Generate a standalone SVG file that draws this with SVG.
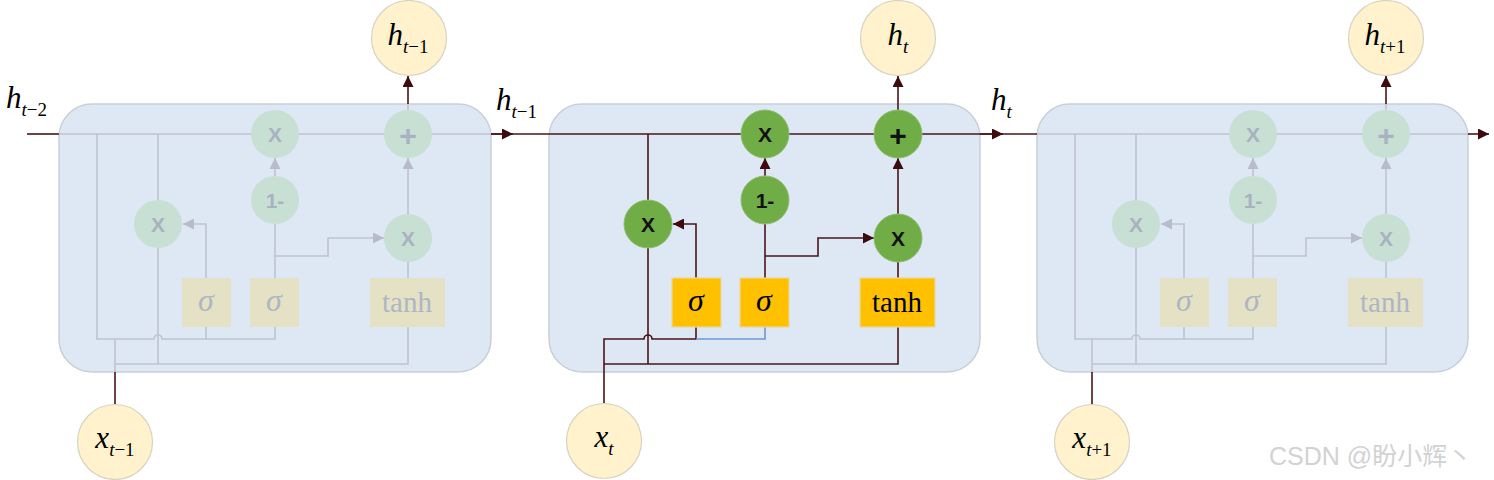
<svg xmlns="http://www.w3.org/2000/svg" width="1494" height="480" viewBox="0 0 1494 480">
<defs>
<style>
.cell{fill:#dee8f4;stroke:#c9ced8;stroke-width:1.5}
.ln{fill:none;stroke:#4a1418;stroke-width:1.6}
.lnf{fill:none;stroke:#bfc3cd;stroke-width:1.6}
.blue{fill:none;stroke:#6f96d6;stroke-width:1.6}
.op{fill:#70ad47;stroke:#8ebd6f;stroke-width:1}
.opf{fill:#c8dfd3;stroke:none}
.gate{fill:#ffc000;stroke:#e8d7a0;stroke-width:1.2}
.gatef{fill:#e5e1c4;stroke:none}
.io{fill:#fff2cc;stroke:#d7d2c2;stroke-width:1.2}
.opt{font-family:"Liberation Sans",Arial,sans-serif;font-size:21px;font-weight:bold;fill:#111;text-anchor:middle;dominant-baseline:central}
.optf{font-family:"Liberation Sans",Arial,sans-serif;font-size:21px;font-weight:bold;fill:#a9b2c0;text-anchor:middle;dominant-baseline:central}
.plus{font-size:30px}
.ser{font-family:"Liberation Serif","Times New Roman",serif;fill:#000;text-anchor:middle}
.serf{font-family:"Liberation Serif","Times New Roman",serif;fill:#aeb6c4;text-anchor:middle}
.lab{font-family:"Liberation Serif","Times New Roman",serif;fill:#000}
</style>
<marker id="ahb" viewBox="0 0 10 10" refX="10" refY="5" markerWidth="11" markerHeight="11" markerUnits="userSpaceOnUse" orient="auto"><path d="M0,0 L10,5 L0,10 z" fill="#3d0a0e"/></marker>
<marker id="ahf" viewBox="0 0 10 10" refX="10" refY="5" markerWidth="11" markerHeight="11" markerUnits="userSpaceOnUse" orient="auto"><path d="M0,0 L10,5 L0,10 z" fill="#b8bcc8"/></marker>
</defs>
<rect width="1494" height="480" fill="#fff"/>

<!-- cell boxes -->
<g id="cell-left"><rect class="cell" x="59" y="104" width="432" height="268" rx="33"/></g>
<g id="cell-mid"><rect class="cell" x="549" y="104" width="431" height="268" rx="33"/></g>
<g id="cell-right"><rect class="cell" x="1037" y="104" width="431" height="268" rx="33"/></g>

<g id="connectors">
<!-- main state line -->
<path class="ln" d="M27,134 H59"/>
<path class="ln" d="M491,134 H549"/>
<path class="ln" d="M491,134 H513" marker-end="url(#ahb)"/>
<path class="ln" d="M549,134 H980"/>
<path class="ln" d="M980,134 H1037"/>
<path class="ln" d="M980,134 H1003" marker-end="url(#ahb)"/>
<path class="ln" d="M1468,134 H1489" marker-end="url(#ahb)"/>

<!-- faded cells (left and right) -->
<g transform="translate(-490,0)">
<path class="lnf" d="M549,134 H980"/>
<path class="lnf" d="M587,134 V339 H644 a4,4 0 0 1 8,0 H696 V327"/>
<path class="lnf" d="M696,339 H765 V327"/>
<path class="lnf" d="M648,134 V200 M648,248 V364"/>
<path class="lnf" d="M605,339 V372"/>
<path class="lnf" d="M605,364 H898 V327"/>
<path class="lnf" d="M696,278 V224 H673" marker-end="url(#ahf)"/>
<path class="lnf" d="M765,278 V224"/>
<path class="lnf" d="M765,256 H818 V238 H874" marker-end="url(#ahf)"/>
<path class="lnf" d="M765,176 V158" marker-end="url(#ahf)"/>
<path class="lnf" d="M898,278 V262"/>
<path class="lnf" d="M898,214 V158" marker-end="url(#ahf)"/>
<path class="lnf" d="M898,110 V104"/>
<path class="ln" d="M605,372 V404"/>
<path class="ln" d="M898,104 V76" marker-end="url(#ahb)"/>
</g>
<g transform="translate(488,0)">
<path class="lnf" d="M549,134 H980"/>
<path class="lnf" d="M587,134 V339 H644 a4,4 0 0 1 8,0 H696 V327"/>
<path class="lnf" d="M696,339 H765 V327"/>
<path class="lnf" d="M648,134 V200 M648,248 V364"/>
<path class="lnf" d="M604,339 V372"/>
<path class="lnf" d="M604,364 H898 V327"/>
<path class="lnf" d="M696,278 V224 H673" marker-end="url(#ahf)"/>
<path class="lnf" d="M765,278 V224"/>
<path class="lnf" d="M765,256 H818 V238 H874" marker-end="url(#ahf)"/>
<path class="lnf" d="M765,176 V158" marker-end="url(#ahf)"/>
<path class="lnf" d="M898,278 V262"/>
<path class="lnf" d="M898,214 V158" marker-end="url(#ahf)"/>
<path class="lnf" d="M898,110 V104"/>
<path class="ln" d="M604,372 V404"/>
<path class="ln" d="M898,104 V76" marker-end="url(#ahb)"/>
</g>

<!-- middle (active) cell -->
<path class="ln" d="M648,134 V200 M648,248 V364"/>
<path class="ln" d="M604,404 V339 H644 a4,4 0 0 1 8,0 H696 V327"/>
<path class="blue" d="M696,339 H765 V327"/>
<path class="ln" d="M604,364 H898 V327"/>
<path class="ln" d="M696,278 V224 H673" marker-end="url(#ahb)"/>
<path class="ln" d="M765,278 V224"/>
<path class="ln" d="M765,256 H818 V238 H874" marker-end="url(#ahb)"/>
<path class="ln" d="M765,176 V158" marker-end="url(#ahb)"/>
<path class="ln" d="M898,278 V262"/>
<path class="ln" d="M898,214 V158" marker-end="url(#ahb)"/>
<path class="ln" d="M898,110 V76" marker-end="url(#ahb)"/>
</g>

<!-- left faded cell nodes -->
<g transform="translate(-490,0)">
<g id="l-mul1"><circle class="opf" cx="765" cy="134" r="24"/><text class="optf" x="765" y="134">X</text></g>
<g id="l-add"><circle class="opf" cx="898" cy="134" r="24"/><text class="optf plus" x="898" y="135">+</text></g>
<g id="l-oneminus"><circle class="opf" cx="765" cy="200" r="24"/><text class="optf" x="765" y="200">1-</text></g>
<g id="l-mul2"><circle class="opf" cx="648" cy="224" r="24"/><text class="optf" x="648" y="224">X</text></g>
<g id="l-mul3"><circle class="opf" cx="898" cy="238" r="24"/><text class="optf" x="898" y="238">X</text></g>
<g id="l-sig1"><rect class="gatef" x="672" y="278" width="49" height="49"/><text class="serf" x="696" y="311" font-size="32" font-style="italic">σ</text></g>
<g id="l-sig2"><rect class="gatef" x="740" y="278" width="49" height="49"/><text class="serf" x="764" y="311" font-size="32" font-style="italic">σ</text></g>
<g id="l-tanh"><rect class="gatef" x="860" y="278" width="75" height="49"/><text class="serf" x="897" y="312" font-size="29">tanh</text></g>
</g>

<!-- right faded cell nodes -->
<g transform="translate(488,0)">
<g id="r-mul1"><circle class="opf" cx="765" cy="134" r="24"/><text class="optf" x="765" y="134">X</text></g>
<g id="r-add"><circle class="opf" cx="898" cy="134" r="24"/><text class="optf plus" x="898" y="135">+</text></g>
<g id="r-oneminus"><circle class="opf" cx="765" cy="200" r="24"/><text class="optf" x="765" y="200">1-</text></g>
<g id="r-mul2"><circle class="opf" cx="648" cy="224" r="24"/><text class="optf" x="648" y="224">X</text></g>
<g id="r-mul3"><circle class="opf" cx="898" cy="238" r="24"/><text class="optf" x="898" y="238">X</text></g>
<g id="r-sig1"><rect class="gatef" x="672" y="278" width="49" height="49"/><text class="serf" x="696" y="311" font-size="32" font-style="italic">σ</text></g>
<g id="r-sig2"><rect class="gatef" x="740" y="278" width="49" height="49"/><text class="serf" x="764" y="311" font-size="32" font-style="italic">σ</text></g>
<g id="r-tanh"><rect class="gatef" x="860" y="278" width="75" height="49"/><text class="serf" x="897" y="312" font-size="29">tanh</text></g>
</g>

<!-- middle active cell nodes -->
<g id="m-mul1"><circle class="op" cx="765" cy="134" r="24"/><text class="opt" x="765" y="134">X</text></g>
<g id="m-add"><circle class="op" cx="898" cy="134" r="24"/><text class="opt plus" x="898" y="135">+</text></g>
<g id="m-oneminus"><circle class="op" cx="765" cy="200" r="24"/><text class="opt" x="765" y="200">1-</text></g>
<g id="m-mul2"><circle class="op" cx="648" cy="224" r="24"/><text class="opt" x="648" y="224">X</text></g>
<g id="m-mul3"><circle class="op" cx="898" cy="238" r="24"/><text class="opt" x="898" y="238">X</text></g>
<g id="m-sig1"><rect class="gate" x="672" y="278" width="49" height="49"/><text class="ser" x="696" y="311" font-size="32" font-style="italic">σ</text></g>
<g id="m-sig2"><rect class="gate" x="740" y="278" width="49" height="49"/><text class="ser" x="764" y="311" font-size="32" font-style="italic">σ</text></g>
<g id="m-tanh"><rect class="gate" x="860" y="278" width="75" height="49"/><text class="ser" x="897" y="312" font-size="29">tanh</text></g>

<!-- output circles -->
<g id="out-h-tm1"><circle class="io" cx="409" cy="38" r="37.5"/><text class="ser" x="408" y="45" font-size="31"><tspan font-style="italic">h</tspan><tspan font-size="19" dy="8" font-style="italic">t</tspan><tspan font-size="19">−1</tspan></text></g>
<g id="out-h-t"><circle class="io" cx="898" cy="38" r="37.5"/><text class="ser" x="898" y="45" font-size="31"><tspan font-style="italic">h</tspan><tspan font-size="19" dy="8" font-style="italic">t</tspan></text></g>
<g id="out-h-tp1"><circle class="io" cx="1386" cy="38" r="37.5"/><text class="ser" x="1385" y="45" font-size="31"><tspan font-style="italic">h</tspan><tspan font-size="19" dy="8" font-style="italic">t</tspan><tspan font-size="19">+1</tspan></text></g>

<!-- input circles -->
<g id="in-x-tm1"><circle class="io" cx="115" cy="442" r="37.5"/><text class="ser" x="115" y="448" font-size="31"><tspan font-style="italic">x</tspan><tspan font-size="19" dy="8" font-style="italic">t</tspan><tspan font-size="19">−1</tspan></text></g>
<g id="in-x-t"><circle class="io" cx="604" cy="441" r="37.5"/><text class="ser" x="604" y="447" font-size="31"><tspan font-style="italic">x</tspan><tspan font-size="19" dy="8" font-style="italic">t</tspan></text></g>
<g id="in-x-tp1"><circle class="io" cx="1092" cy="442" r="37.5"/><text class="ser" x="1092" y="448" font-size="31"><tspan font-style="italic">x</tspan><tspan font-size="19" dy="8" font-style="italic">t</tspan><tspan font-size="19">+1</tspan></text></g>

<!-- line labels -->
<text class="lab" x="6" y="108" font-size="31"><tspan font-style="italic">h</tspan><tspan font-size="19" dy="8" font-style="italic">t</tspan><tspan font-size="19">−2</tspan></text>
<text class="lab" x="496" y="110" font-size="31"><tspan font-style="italic">h</tspan><tspan font-size="19" dy="8" font-style="italic">t</tspan><tspan font-size="19">−1</tspan></text>
<text class="lab" x="991" y="110" font-size="31"><tspan font-style="italic">h</tspan><tspan font-size="19" dy="8" font-style="italic">t</tspan></text>

<!-- watermark -->
<text x="1269" y="465" font-family="'Liberation Sans','Noto Sans CJK SC',sans-serif" font-size="25" fill="#d2d2d2">CSDN @盼小辉丶</text>
</svg>
